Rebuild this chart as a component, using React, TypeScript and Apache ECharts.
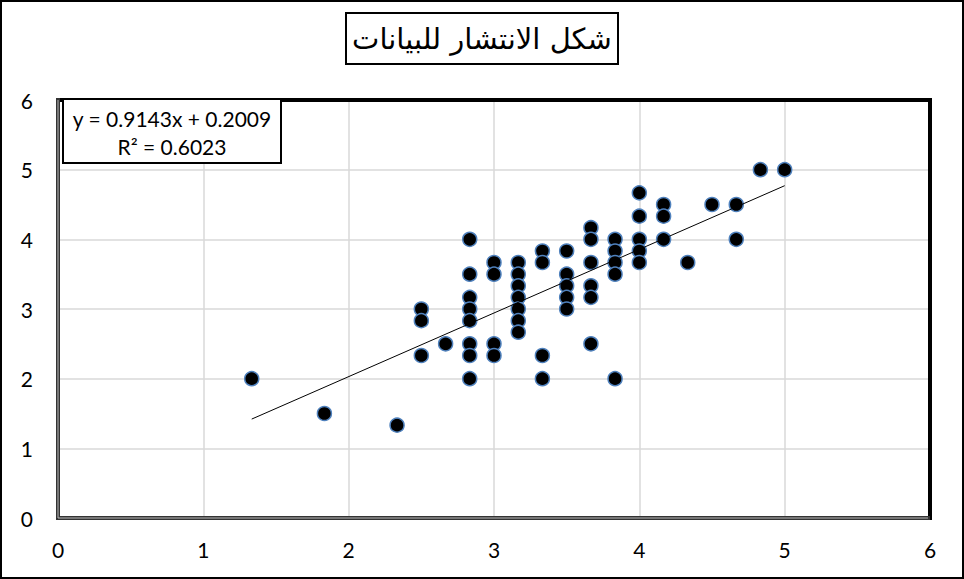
import React, { useEffect, useRef } from "react";
import * as echarts from "echarts";

const titleText = "شكل الانتشار للبيانات";
const equationText = "y = 0.9143x + 0.2009";
const r2Text = "R² = 0.6023";

const xTicks = [0, 1, 2, 3, 4, 5, 6];
const yTicks = [0, 1, 2, 3, 4, 5, 6];

const xValues = [
  1.333, 1.833, 2.333,
  2.5, 2.5, 2.5,
  2.667,
  2.833, 2.833, 2.833, 2.833, 2.833, 2.833, 2.833, 2.833,
  3, 3, 3, 3,
  3.167, 3.167, 3.167, 3.167, 3.167, 3.167, 3.167,
  3.333, 3.333, 3.333, 3.333,
  3.5, 3.5, 3.5, 3.5, 3.5,
  3.667, 3.667, 3.667, 3.667, 3.667, 3.667,
  3.833, 3.833, 3.833, 3.833, 3.833,
  4, 4, 4, 4, 4,
  4.167, 4.167, 4.167,
  4.333,
  4.5,
  4.667, 4.667,
  4.833,
  5,
];
const yValues = [
  2, 1.5, 1.333,
  3, 2.833, 2.333,
  2.5,
  4, 3.5, 3.167, 3, 2.833, 2.5, 2.333, 2,
  3.667, 3.5, 2.5, 2.333,
  3.667, 3.5, 3.333, 3.167, 3, 2.833, 2.667,
  3.833, 3.667, 2.333, 2,
  3.833, 3.5, 3.333, 3.167, 3,
  4.167, 4, 3.667, 3.333, 3.167, 2.5,
  4, 3.833, 3.667, 3.5, 2,
  4.667, 4.333, 4, 3.833, 3.667,
  4.5, 4.333, 4,
  3.667,
  4.5,
  4.5, 4,
  5,
  5,
];

const trendX = [1.333, 5];
const trendY = [1.42, 4.77];

const W = 964;
const H = 579;
const G = { left: 58, right: 34, top: 100, bottom: 61 };

export default function App() {
  const ref = useRef<HTMLDivElement>(null);
  useEffect(() => {
    if (!ref.current) return;
    const chart = echarts.init(ref.current, null, { renderer: "svg" });
    const pts = xValues.map((x, i) => [x, yValues[i]]);
    const trend = trendX.map((x, i) => [x, trendY[i]]);
    const gx0 = G.left;
    const gx1 = W - G.right;
    const gy0 = G.top;
    const gy1 = H - G.bottom;
    const font = "Lato, 'Noto Sans', sans-serif";
    chart.setOption({
      animation: false,
      backgroundColor: "#fff",
      title: {
        text: titleText,
        left: "center",
        top: 13,
        borderColor: "#000",
        borderWidth: 2,
        padding: [11, 6, 11, 6],
        textStyle: {
          fontFamily: "'DejaVu Sans', sans-serif",
          fontSize: 29,
          fontWeight: "normal",
          color: "#000",
        },
      },
      grid: { left: G.left, right: G.right, top: G.top, bottom: G.bottom, containLabel: false },
      xAxis: {
        type: "value",
        min: 0,
        max: 6,
        interval: 1,
        axisLine: { show: false },
        axisTick: { show: false },
        axisLabel: {
          margin: 21,
          fontSize: 21,
          fontFamily: font,
          color: "#000",
          formatter: (v: number) => (xTicks.includes(v) ? String(v) : ""),
        },
        splitLine: { show: true, lineStyle: { color: "#d9d9d9", width: 1.5 } },
      },
      yAxis: {
        type: "value",
        min: 0,
        max: 6,
        interval: 1,
        axisLine: { show: false },
        axisTick: { show: false },
        axisLabel: {
          margin: 25,
          fontSize: 21,
          fontFamily: font,
          color: "#000",
          formatter: (v: number) => (yTicks.includes(v) ? String(v) : ""),
        },
        splitLine: { show: true, lineStyle: { color: "#d9d9d9", width: 1.5 } },
      },
      series: [
        {
          type: "scatter",
          data: pts,
          symbol: "circle",
          symbolSize: 14,
          itemStyle: { color: "#000", borderColor: "#4f81bd", borderWidth: 1.5, opacity: 1 },
          z: 3,
        },
        {
          type: "line",
          data: trend,
          symbol: "none",
          lineStyle: { color: "#000", width: 1 },
          z: 4,
        },
      ],
      graphic: [
        {
          type: "rect",
          z: 50,
          shape: { x: 1, y: 1, width: W - 2, height: H - 2 },
          style: { fill: "none", stroke: "#000", lineWidth: 2 },
        },
        {
          type: "line",
          z: 60,
          shape: { x1: gx0 - 2, y1: gy0, x2: gx1 + 2, y2: gy0 },
          style: { stroke: "#000", lineWidth: 4 },
        },
        {
          type: "line",
          z: 60,
          shape: { x1: gx1, y1: gy0, x2: gx1, y2: gy1 + 2 },
          style: { stroke: "#000", lineWidth: 4 },
        },
        {
          type: "line",
          z: 60,
          shape: { x1: gx0, y1: gy0 - 2, x2: gx0, y2: gy1 + 2 },
          style: { stroke: "#333", lineWidth: 4 },
        },
        {
          type: "line",
          z: 60,
          shape: { x1: gx0 - 2, y1: gy1, x2: gx1, y2: gy1 },
          style: { stroke: "#333", lineWidth: 4 },
        },
        {
          type: "line",
          z: 61,
          shape: { x1: gx0, y1: gy0, x2: gx0, y2: gy1 },
          style: { stroke: "#bbb", lineWidth: 1 },
        },
        {
          type: "line",
          z: 61,
          shape: { x1: gx0, y1: gy1, x2: gx1 - 2, y2: gy1 },
          style: { stroke: "#bbb", lineWidth: 1 },
        },
        {
          type: "rect",
          z: 70,
          shape: { x: 63, y: 99, width: 218, height: 64 },
          style: { fill: "#fff", stroke: "#000", lineWidth: 2 },
        },
        {
          type: "text",
          z: 71,
          x: 172,
          y: 118,
          style: {
            text: equationText,
            fontSize: 21,
            fontFamily: font,
            fill: "#000",
            align: "center",
            verticalAlign: "middle",
          },
        },
        {
          type: "text",
          z: 71,
          x: 172,
          y: 146,
          style: {
            text: r2Text,
            fontSize: 21,
            fontFamily: font,
            fill: "#000",
            align: "center",
            verticalAlign: "middle",
          },
        },
      ],
    });
    return () => chart.dispose();
  }, []);
  return (
    <div
      ref={ref}
      style={{ position: "absolute", left: 0, top: 0, width: W, height: H }}
    />
  );
}
